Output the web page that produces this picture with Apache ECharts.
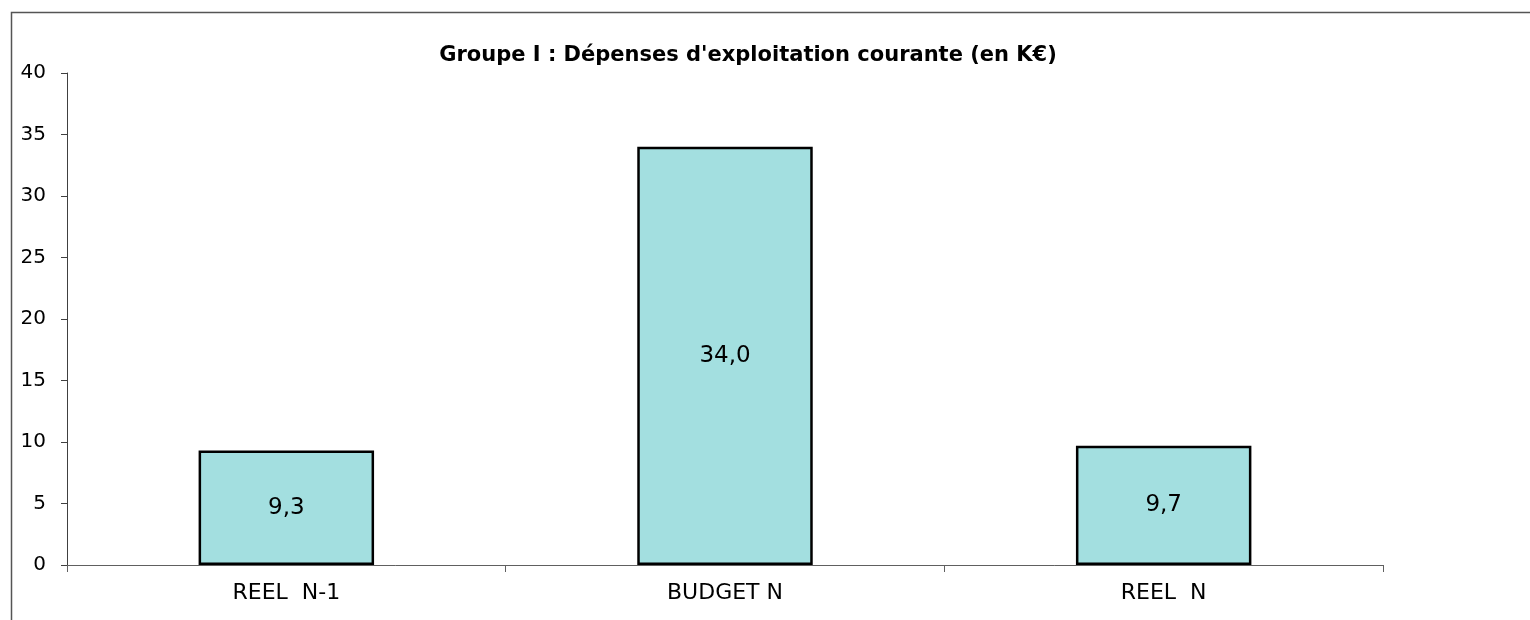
<!DOCTYPE html>
<html>
<head>
<meta charset="utf-8">
<script src="https://cdn.jsdelivr.net/npm/echarts@6/dist/echarts.min.js"></script>
<style>
html, body { margin: 0; padding: 0; background: #fff; }
#chart { width: 1530px; height: 620px; }
</style>
</head>
<body>
<div id="chart"></div>
<script>
var categories = ['REEL  N-1', 'BUDGET N', 'REEL  N'];
var values = [9.3, 34.0, 9.7];
var yTicks = [0, 5, 10, 15, 20, 25, 30, 35, 40];

var myChart = echarts.init(document.getElementById('chart'));

var option = {
    animation: false,
    textStyle: { fontFamily: 'DejaVu Sans' },
    title: {
        text: "Groupe I : Dépenses d'exploitation courante (en K€)",
        left: 743,
        top: 40,
        textAlign: 'center',
        textStyle: {
            fontFamily: 'DejaVu Sans',
            fontWeight: 'bold',
            fontSize: 21,
            color: '#000'
        }
    },
    graphic: [{
        type: 'rect',
        shape: { x: 11.5, y: 12.5, width: 1600, height: 700 },
        style: { fill: 'none', stroke: '#555', lineWidth: 1.5 },
        silent: true
    }],
    grid: {
        left: 67,
        top: 73,
        right: 147,
        bottom: 55
    },
    xAxis: {
        type: 'category',
        data: categories,
        axisLine: { lineStyle: { color: '#606060', width: 1 } },
        axisTick: { show: true, length: 7, alignWithLabel: false, lineStyle: { color: '#606060' } },
        axisLabel: { color: '#000', fontSize: 22, margin: 17 }
    },
    yAxis: {
        type: 'value',
        min: yTicks[0],
        max: yTicks[yTicks.length - 1],
        interval: 5,
        splitLine: { show: false },
        axisLine: { show: true, lineStyle: { color: '#404040', width: 1 } },
        axisTick: { show: true, length: 6, lineStyle: { color: '#404040' } },
        axisLabel: { color: '#000', fontSize: 20, margin: 21 }
    },
    series: [{
        type: 'bar',
        data: values,
        barWidth: '40%',
        itemStyle: {
            color: '#a3dfe0',
            borderColor: '#000',
            borderWidth: 2.5
        },
        label: {
            show: true,
            position: 'inside',
            color: '#000',
            fontSize: 23,
            formatter: function (p) {
                return p.value.toFixed(1).replace('.', ',');
            }
        }
    }]
};

myChart.setOption(option);
</script>
</body>
</html>
